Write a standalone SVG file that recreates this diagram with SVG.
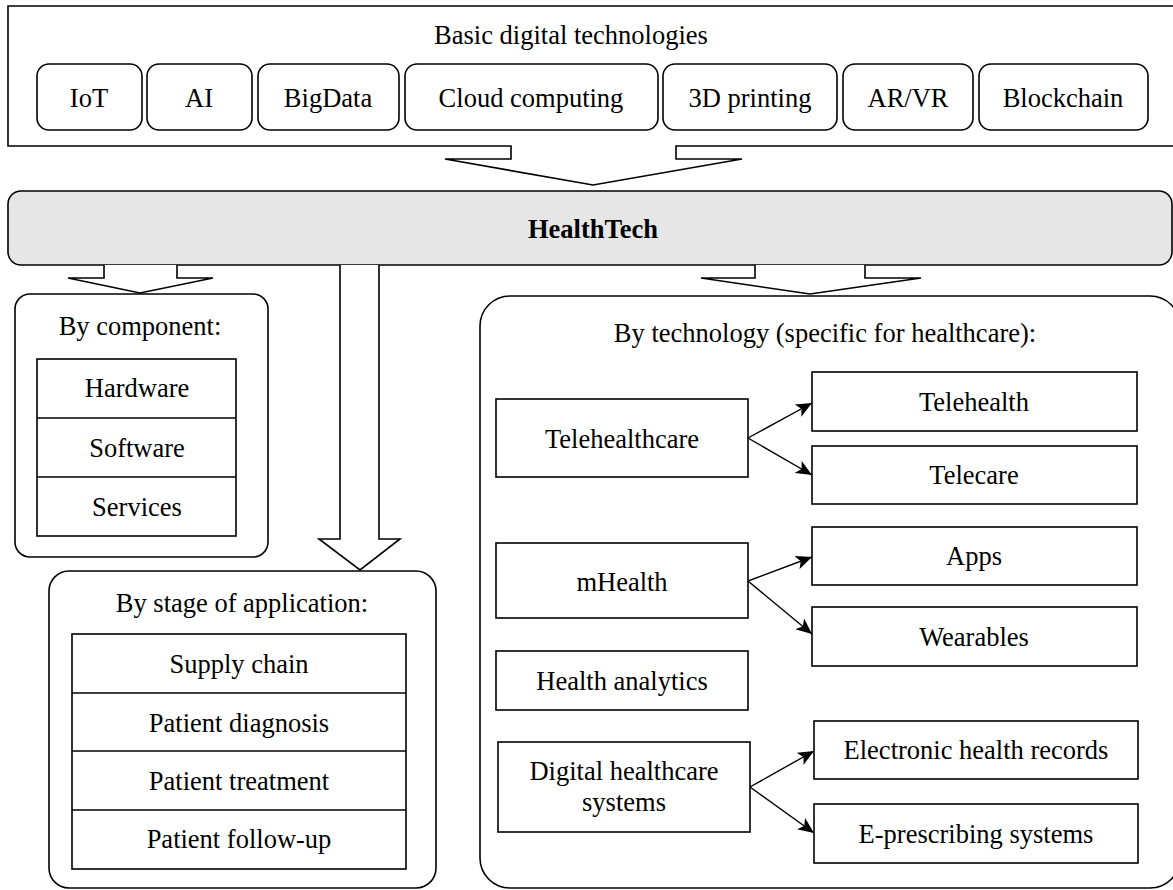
<svg xmlns="http://www.w3.org/2000/svg" width="1173" height="890" viewBox="0 0 1173 890">
<defs>
<marker id="ah" markerUnits="userSpaceOnUse" markerWidth="18" markerHeight="14" refX="16" refY="7" orient="auto">
<path d="M0,0 L16,7 L0,14 L4,7 Z" fill="#000"/>
</marker>
</defs>
<style>
text{font-family:"Liberation Serif","Times New Roman",serif;font-size:26.5px;fill:#000;text-anchor:middle}
.b{stroke:#000;stroke-width:1.6;fill:#fff}
.ln{stroke:#000;stroke-width:1.4;fill:none}
.bold{font-weight:bold}
</style>
<rect width="1173" height="890" fill="#fff"/>

<g id="basic-tech">
<path class="b" d="M1180,146 H676 V159 H742 L593,185 L445,159 H511 V146 H8 V6 H1180"/>
<text x="571" y="44">Basic digital technologies</text>
<g id="iot"><rect class="b" x="37" y="64" width="105" height="66" rx="12"/><text x="89" y="107">IoT</text></g>
<g id="ai"><rect class="b" x="147" y="64" width="105" height="66" rx="12"/><text x="199" y="107">AI</text></g>
<g id="bigdata"><rect class="b" x="258" y="64" width="141" height="66" rx="12"/><text x="328" y="107">BigData</text></g>
<g id="cloud"><rect class="b" x="405" y="64" width="253" height="66" rx="12"/><text x="531" y="107">Cloud computing</text></g>
<g id="printing"><rect class="b" x="663" y="64" width="174" height="66" rx="12"/><text x="750" y="107">3D printing</text></g>
<g id="arvr"><rect class="b" x="843" y="64" width="130" height="66" rx="12"/><text x="908" y="107">AR/VR</text></g>
<g id="blockchain"><rect class="b" x="979" y="64" width="169" height="66" rx="12"/><text x="1063" y="107">Blockchain</text></g>
</g>

<g id="healthtech">
<rect x="8" y="191" width="1164" height="74" rx="13" fill="#e6e6e6" stroke="#000" stroke-width="1.6"/>
<text class="bold" x="593" y="238">HealthTech</text>
</g>

<g id="by-component">
<rect class="b" x="15" y="294" width="253" height="263" rx="15"/>
<text x="140" y="335">By component:</text>
<rect class="b" x="37" y="359" width="199" height="177"/>
<line class="ln" x1="37" y1="418" x2="236" y2="418"/>
<line class="ln" x1="37" y1="477" x2="236" y2="477"/>
<text x="137" y="397">Hardware</text>
<text x="137" y="457">Software</text>
<text x="137" y="516">Services</text>
</g>

<g id="by-stage">
<rect class="b" x="49" y="571" width="387" height="317" rx="20"/>
<text x="242" y="612">By stage of application:</text>
<rect class="b" x="72" y="634" width="334" height="235"/>
<line class="ln" x1="72" y1="693" x2="406" y2="693"/>
<line class="ln" x1="72" y1="751" x2="406" y2="751"/>
<line class="ln" x1="72" y1="810" x2="406" y2="810"/>
<text x="239" y="673">Supply chain</text>
<text x="239" y="732">Patient diagnosis</text>
<text x="239" y="790">Patient treatment</text>
<text x="239" y="848">Patient follow-up</text>
</g>

<g id="by-technology">
<rect class="b" x="480" y="296" width="700" height="592" rx="30"/>
<text x="825" y="342">By technology (specific for healthcare):</text>
<g id="telehealthcare"><rect class="b" x="496" y="399" width="252" height="78"/><text x="622" y="448">Telehealthcare</text></g>
<g id="mhealth"><rect class="b" x="496" y="543" width="252" height="75"/><text x="622" y="591">mHealth</text></g>
<g id="analytics"><rect class="b" x="496" y="651" width="252" height="59"/><text x="622" y="690">Health analytics</text></g>
<g id="digital"><rect class="b" x="498" y="742" width="252" height="90"/><text x="624" y="780">Digital healthcare</text><text x="624" y="811">systems</text></g>
<g id="telehealth"><rect class="b" x="812" y="372" width="325" height="59"/><text x="974" y="411">Telehealth</text></g>
<g id="telecare"><rect class="b" x="812" y="446" width="325" height="58"/><text x="974" y="484">Telecare</text></g>
<g id="apps"><rect class="b" x="812" y="527" width="325" height="58"/><text x="974" y="565">Apps</text></g>
<g id="wearables"><rect class="b" x="812" y="607" width="325" height="59"/><text x="974" y="646">Wearables</text></g>
<g id="ehr"><rect class="b" x="814" y="721" width="324" height="58"/><text x="976" y="759">Electronic health records</text></g>
<g id="eprescribing"><rect class="b" x="814" y="804" width="324" height="59"/><text x="976" y="843">E-prescribing systems</text></g>
</g>

<g id="connectors">
<path class="b" d="M104,265 V278 H68 L140,293 L213,278 H177 V265"/>
<path class="b" d="M340,265 V539 H319 L360,570 L400,539 H379 V265"/>
<path class="b" d="M755,265 V278 H701 L810,294 L921,278 H865 V265"/>
<line class="ln" x1="748" y1="438" x2="812" y2="403" marker-end="url(#ah)"/>
<line class="ln" x1="748" y1="438" x2="812" y2="475" marker-end="url(#ah)"/>
<line class="ln" x1="748" y1="581" x2="812" y2="557" marker-end="url(#ah)"/>
<line class="ln" x1="748" y1="581" x2="812" y2="634" marker-end="url(#ah)"/>
<line class="ln" x1="750" y1="787" x2="814" y2="751" marker-end="url(#ah)"/>
<line class="ln" x1="750" y1="787" x2="814" y2="833" marker-end="url(#ah)"/>
</g>
</svg>
